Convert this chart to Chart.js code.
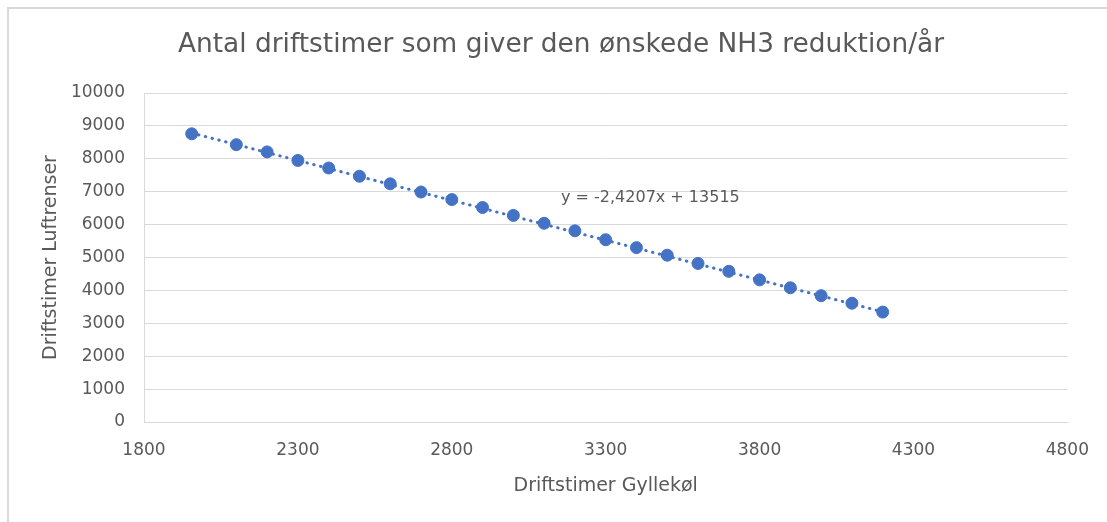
<!DOCTYPE html>
<html>
<head>
<meta charset="utf-8">
<script src="https://cdn.jsdelivr.net/npm/chart.js@4.4.1/dist/chart.umd.min.js"></script>
<style>
    html, body { margin: 0; background: #ffffff; overflow: hidden; }
    #wrap { position: absolute; left: 0; top: 0; width: 1107px; height: 522px; overflow: hidden; }
    #frame {
        position: absolute; left: 7px; top: 7px;
        width: 1200px; height: 600px;
        border-left: 2px solid #d9d9d9;
        border-top: 2px solid #d9d9d9;
    }
    #chart { position: absolute; left: 0; top: 0; }
</style>
</head>
<body>
<div id="wrap">
    <div id="frame"></div>
    <canvas id="chart" width="1107" height="522"></canvas>
</div>
<script>
// Driftstimer Gyllekøl (x) og Driftstimer Luftrenser (y)
const gyllekol = [1955, 2100, 2200, 2300, 2400, 2500, 2600, 2700, 2800, 2900, 3000, 3100,
    3200, 3300, 3400, 3500, 3600, 3700, 3800, 3900, 4000, 4100, 4200];
const luftrenser = [8760, 8430, 8210, 7950, 7720, 7470, 7240, 6990, 6760, 6520, 6280, 6040,
    5810, 5540, 5300, 5070, 4820, 4580, 4320, 4080, 3840, 3610, 3340];

// trendline from the equation shown on the chart
const slope = -2.4207;
const intercept = 13515;
const equationText = "y = -2,4207x + 13515";
const titleText = "Antal driftstimer som giver den ønskede NH3 reduktion/år";

const xTicks = [1800, 2300, 2800, 3300, 3800, 4300, 4800];
const yTicks = [0, 1000, 2000, 3000, 4000, 5000, 6000, 7000, 8000, 9000, 10000];

const textColor = "#595959";
const font = "'DejaVu Sans', sans-serif";

const points = gyllekol.map((x, i) => ({ x: x, y: luftrenser[i] }));
const xMin = Math.min(...gyllekol);
const xMax = Math.max(...gyllekol);
const trend = [
    { x: xMin, y: slope * xMin + intercept },
    { x: xMax, y: slope * xMax + intercept }
];

// title and trendline equation are placed like in the excel chart
const chartTexts = {
    id: "chartTexts",
    afterDatasetsDraw(chart) {
        const ctx = chart.ctx;
        ctx.save();
        ctx.fillStyle = textColor;
        ctx.textBaseline = "middle";
        ctx.font = "26.4px " + font;
        ctx.textAlign = "center";
        ctx.fillText(titleText, 561, 45);
        ctx.font = "16px " + font;
        ctx.textAlign = "left";
        ctx.fillText(equationText, 561, 198);
        ctx.restore();
    }
};

new Chart(document.getElementById("chart"), {
    type: "scatter",
    data: {
        datasets: [
            {
                label: "Driftstimer",
                data: points,
                backgroundColor: "#4472c4",
                borderColor: "#4472c4",
                pointRadius: 6,
                pointHoverRadius: 6,
                order: 1
            },
            {
                label: "Tendens",
                type: "line",
                data: trend,
                borderColor: "#4472c4",
                borderWidth: 3,
                borderDash: [0.5, 6.5],
                borderCapStyle: "round",
                pointRadius: 0,
                fill: false,
                order: 2
            }
        ]
    },
    options: {
        responsive: false,
        animation: false,
        layout: { padding: { left: 0, right: 35, top: 93, bottom: 0 } },
        plugins: {
            legend: { display: false },
            tooltip: { enabled: false },
            title: { display: false }
        },
        scales: {
            x: {
                type: "linear",
                min: 1800,
                max: 4800,
                afterBuildTicks: s => { s.ticks = xTicks.map(v => ({ value: v })); },
                afterFit: s => { s.height = 100; },
                grid: { display: false, drawTicks: false },
                border: { display: true, color: "#d9d9d9", width: 1 },
                ticks: {
                    color: textColor,
                    font: { family: font, size: 17 },
                    padding: 18,
                    callback: v => String(v)
                },
                title: {
                    display: true,
                    text: "Driftstimer Gyllekøl",
                    color: textColor,
                    font: { family: font, size: 19 },
                    padding: { top: 0, bottom: 25 }
                }
            },
            y: {
                min: 0,
                max: 10000,
                afterBuildTicks: s => { s.ticks = yTicks.map(v => ({ value: v })); },
                afterFit: s => { s.width = 144; },
                grid: { color: "#d9d9d9", drawTicks: false },
                border: { display: true, color: "#d9d9d9", width: 1 },
                ticks: {
                    color: textColor,
                    font: { family: font, size: 17 },
                    padding: 19,
                    callback: v => String(v)
                },
                title: {
                    display: true,
                    text: "Driftstimer Luftrenser",
                    color: textColor,
                    font: { family: font, size: 19 },
                    padding: { top: 40, bottom: 0 }
                }
            }
        }
    },
    plugins: [chartTexts]
});
</script>
</body>
</html>
